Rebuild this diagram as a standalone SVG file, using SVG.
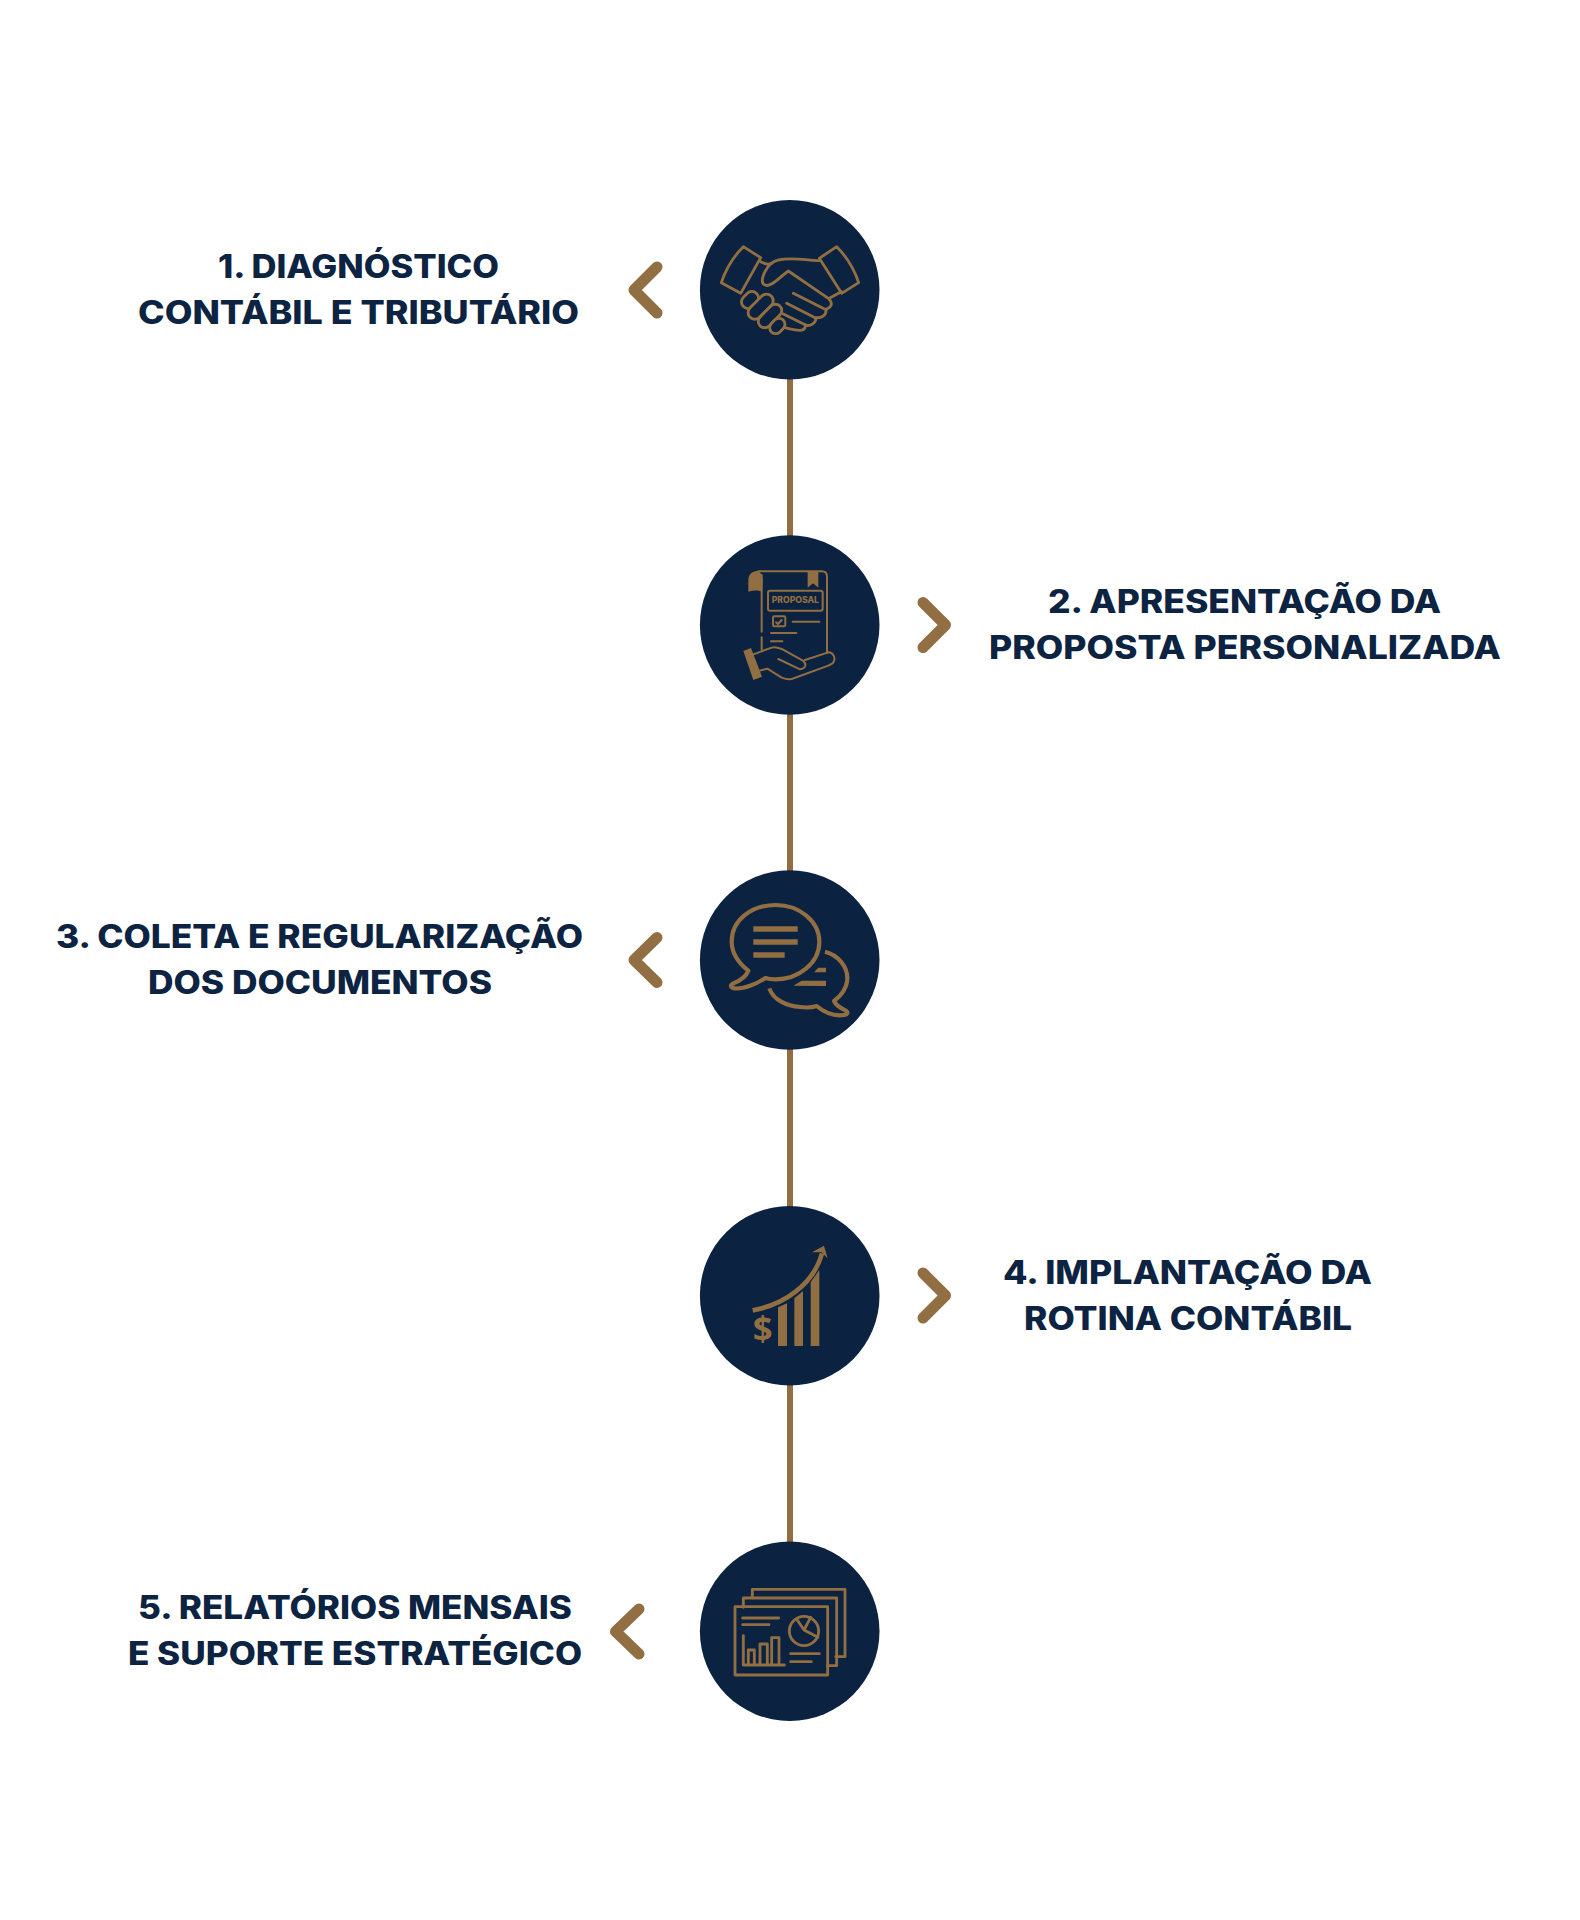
<svg xmlns="http://www.w3.org/2000/svg" width="1580" height="1920" viewBox="0 0 1580 1920">
<style>
.d{fill:#0b2240}
.t{font-family:"Inter","Noto Sans","Liberation Sans",sans-serif;font-weight:800;font-size:32px;fill:#0c2341}
.c{fill:none;stroke:#926f42;stroke-width:11;stroke-linecap:round;stroke-linejoin:round}
.b{fill:none;stroke:#926f42;stroke-width:12.5;stroke-linecap:butt;stroke-linejoin:round}
.s{fill:none;stroke:#926f42;stroke-width:8.5;stroke-linecap:round;stroke-linejoin:round}
.s2{fill:none;stroke:#926f42;stroke-width:6;stroke-linecap:round;stroke-linejoin:round}
.f{fill:#926f42}
.n{fill:#0b2240;stroke:#926f42;stroke-width:8.5}
</style>
<rect width="1580" height="1920" fill="#ffffff"/>
<g id="connectors" stroke="#926f42" stroke-width="6">
<line x1="790" y1="375" x2="790" y2="540"/>
<line x1="790" y1="710" x2="790" y2="875"/>
<line x1="790" y1="1045" x2="790" y2="1210"/>
<line x1="790" y1="1380" x2="790" y2="1546"/>
</g>
<g id="step1">
<circle class="d" cx="789.700" cy="289.700" r="89.800"/>
<g transform="translate(690 190) scale(.33333)">
<path class="s" d="M160,170L212,203L152,310L94,278Q115,215 160,170Z"/>
<path class="s" d="M440,170L388,205L455,310L506,278Q485,215 440,170Z"/>
<path class="s" d="M388,212C350,212 310,200 265,210C245,215 235,225 225,245C215,265 212,282 228,286C245,290 265,265 295,243L415,325C430,340 425,352 408,358C410,375 395,385 378,383C378,400 360,410 347,405C345,425 330,425 285,413"/>
<path class="s" d="M212,215C225,222 235,225 245,220M418,325L454,305M310,310L405,358M290,340L378,385M280,372L347,405"/>
<rect class="n" x="-28" y="-20" width="56" height="40" rx="20" transform="translate(180 330) rotate(-45)"/>
<rect class="n" x="-45" y="-20" width="90" height="40" rx="20" transform="translate(212 350) rotate(-45)"/>
<rect class="n" x="-42" y="-19" width="84" height="38" rx="19" transform="translate(240 378) rotate(-45)"/>
<rect class="n" x="-25" y="-18" width="50" height="36" rx="18" transform="translate(262 408) rotate(-45)"/>
</g>
</g>
<g id="step2">
<circle class="d" cx="789.700" cy="625" r="89.800"/>
<g transform="translate(690 525) scale(.33333)">
<path class="f" d="M175,200L175,165C175,145 190,138 205,138C215,145 218,155 218,165L216,200C205,195 190,195 175,200Z"/>
<path class="f" d="M353,140L385,140L385,188L369,175L353,188Z"/>
<path class="s2" d="M205,139L395,139Q411,139 411,155L411,385M215,150L215,320M215,337L215,375"/>
<rect class="s2" x="234" y="197" width="164" height="60" rx="6"/>
<text x="316" y="234" text-anchor="middle" font-family="Inter,'Liberation Sans',sans-serif" font-weight="800" font-size="25" textLength="142" lengthAdjust="spacingAndGlyphs" class="f">PROPOSAL</text>
<rect class="s2" x="249" y="274" width="37" height="30" rx="4"/>
<path class="s2" d="M258,292L264,297L275,285M308,290L388,290M243,324L319,324M243,349L277,349"/>
<path class="f" d="M160,378L183,369L216,455L190,465Z"/>
<path class="s2" d="M190,388L245,368C255,364 265,368 275,372L340,408C350,418 348,430 330,433L265,402M345,405L415,382C430,382 438,400 430,412C428,418 420,418 415,422L305,462C295,465 285,462 275,458L232,431L205,438"/>
</g>
</g>
<g id="step3">
<circle class="d" cx="789.700" cy="960" r="89.800"/>
<g transform="translate(690 860) scale(.33333)">
<path class="b" d="M175,332C135,300 125,270 125,245C125,180 185,135 257,135C330,135 388,185 388,245C388,310 325,358 257,358C245,358 235,357 226,354C200,372 160,388 135,385C120,383 120,375 130,370C155,360 170,345 175,332Z"/>
<path class="f" d="M190,199H323V215H190ZM190,238H323V254H190ZM190,277H284V293H190ZM372,337L385,323H408V337ZM310,377L335,362H408V378Z"/>
<path class="b" d="M405,275C445,285 472,320 472,355C472,385 450,410 432,423C440,440 455,445 468,452C478,460 470,466 450,466C425,466 400,455 380,438C365,443 345,443 330,441C290,438 250,420 238,385"/>
</g>
</g>
<g id="step4">
<circle class="d" cx="789.700" cy="1295.700" r="89.800"/>
<g transform="translate(690 1195) scale(.33333)">
<path class="b" style="stroke-width:14" d="M188,346C280,330 370,270 396,175"/>
<path class="f" d="M402,152L413,190L395,172L366,172Z"/>
<path class="f" d="M264,337L291,325V453H264ZM313,310L339,288V453H313ZM362,262L388,225V453H362Z"/>
<text x="218" y="439" text-anchor="middle" font-family="'Open Sans','Liberation Sans',sans-serif" font-weight="700" font-size="104" class="f">$</text>
</g>
</g>
<g id="step5">
<circle class="d" cx="789.700" cy="1631.200" r="89.800"/>
<g transform="translate(690 1530) scale(.33333)">
<path class="s" d="M187,205L187,178L465,178L465,380L437,380M160,232L160,204L440,204L440,407L412,407"/>
<rect class="s" x="135" y="230" width="278" height="205"/>
<path class="s" d="M158,264L266,264M158,284L237,284M160,317L160,405L283,405M175,405V360H193V405M210,405V342H232V405M245,405V323H267V405"/>
<circle class="s" cx="342" cy="303" r="44"/>
<path class="s" d="M322,270L342,300L362,262M342,300L384,322M302,371L388,371M302,395L364,395"/>
</g>
</g>
<g id="chevrons">
<path class="c" d="M657,267L634,290L657,313"/>
<path class="c" d="M923,602.500L945.500,625L923,647.500"/>
<path class="c" d="M657,937.500L634,960L657,982.500"/>
<path class="c" d="M923,1273L945.500,1295.500L923,1318"/>
<path class="c" d="M639,1609L615.500,1631.500L639,1654"/>
</g>
<g id="label1">
<text class="t" x="218" y="277.500" textLength="281" lengthAdjust="spacingAndGlyphs">1. DIAGNÓSTICO</text>
<text class="t" x="138" y="323.500" textLength="441" lengthAdjust="spacingAndGlyphs">CONTÁBIL E TRIBUTÁRIO</text>
</g>
<g id="label2">
<text class="t" x="1048" y="613" textLength="393" lengthAdjust="spacingAndGlyphs">2. APRESENTAÇÃO DA</text>
<text class="t" x="989" y="659" textLength="512" lengthAdjust="spacingAndGlyphs">PROPOSTA PERSONALIZADA</text>
</g>
<g id="label3">
<text class="t" x="56" y="948" textLength="527" lengthAdjust="spacingAndGlyphs">3. COLETA E REGULARIZAÇÃO</text>
<text class="t" x="148" y="994" textLength="344" lengthAdjust="spacingAndGlyphs">DOS DOCUMENTOS</text>
</g>
<g id="label4">
<text class="t" x="1003" y="1283.500" textLength="369" lengthAdjust="spacingAndGlyphs">4. IMPLANTAÇÃO DA</text>
<text class="t" x="1024" y="1329.500" textLength="328" lengthAdjust="spacingAndGlyphs">ROTINA CONTÁBIL</text>
</g>
<g id="label5">
<text class="t" x="138" y="1619" textLength="434" lengthAdjust="spacingAndGlyphs">5. RELATÓRIOS MENSAIS</text>
<text class="t" x="128" y="1665" textLength="454" lengthAdjust="spacingAndGlyphs">E SUPORTE ESTRATÉGICO</text>
</g>
</svg>
